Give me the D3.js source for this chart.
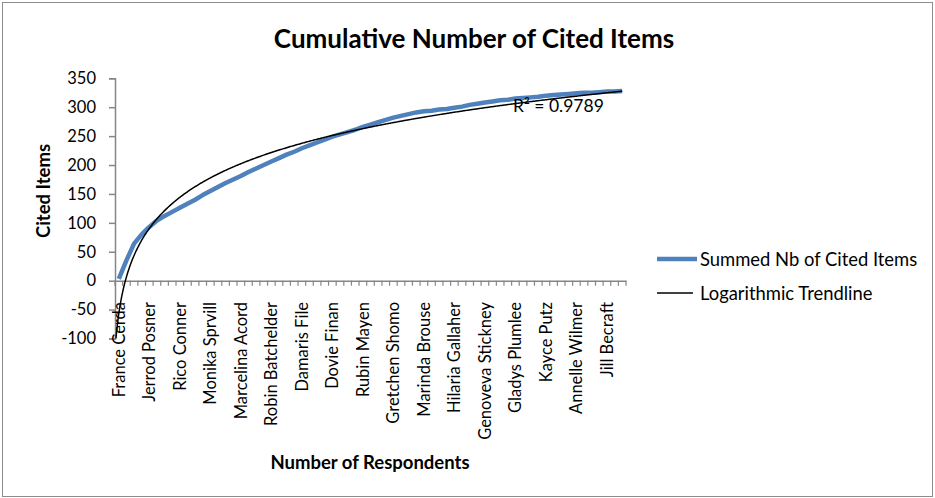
<!DOCTYPE html>
<html lang="en">
<head>
    <meta charset="UTF-8">
    <title>Cumulative Number of Cited Items</title>
    <script src="https://d3js.org/d3.v7.min.js"></script>
    <style>
        body { margin: 0; background: #fff; }
        text { font-family: Lato, "Open Sans", sans-serif; fill: #000; }
    </style>
</head>
<body>
    <div id="chart"></div>

    <script>
        // labels shown on the x axis (every 4th respondent)
        const shownLabels = ["France Cerda", "Jerrod Posner", "Rico Conner", "Monika Sprvill",
            "Marcelina Acord", "Robin Batchelder", "Damaris File", "Dovie Finan", "Rubin Mayen",
            "Gretchen Shomo", "Marinda Brouse", "Hilaria Gallaher", "Genoveva Stickney",
            "Gladys Plumlee", "Kayce Putz", "Annelle Wilmer", "Jill Becraft"];
        const labelStep = 4;

        // summed number of cited items, one value per respondent
        const summed = [3, 35, 64, 80, 93, 104, 112, 119, 126, 133,
            140, 148, 155, 162, 169, 175, 181, 188, 194, 200,
            206, 212, 218, 223, 229, 234, 239, 244, 249, 253,
            257, 261, 266, 270, 274, 278, 282, 285, 288, 291,
            293, 294, 296, 297, 299, 301, 304, 306, 308, 310,
            312, 313, 315, 316, 317, 318, 320, 321, 322, 323,
            324, 325, 325, 326, 327, 327, 328];

        const yTicks = [-100, -50, 0, 50, 100, 150, 200, 250, 300, 350];
        const r2Text = "R² = 0.9789";

        const W = 935, H = 498;
        const plotL = 115, plotR = 626, plotT = 78.3, plotB = 338.5;

        const svg = d3.select("#chart").append("svg")
            .attr("width", W).attr("height", H);

        // chart border
        svg.append("rect")
            .attr("x", 2.5).attr("y", 2.5)
            .attr("width", 930).attr("height", 494)
            .attr("fill", "none").attr("stroke", "#8c8c8c");

        const idx = d3.range(summed.length);
        const x = d3.scaleBand().domain(idx).range([plotL, plotR]);
        const xc = i => x(i) + x.bandwidth() / 2;
        const y = d3.scaleLinear().domain([-100, 350]).range([plotB, plotT]);

        // logarithmic trendline: least squares on ln(n), n = 1..N
        const lx = idx.map(i => Math.log(i + 1));
        const mx = d3.mean(lx), my = d3.mean(summed);
        const a = d3.sum(idx, i => (lx[i] - mx) * (summed[i] - my)) / d3.sum(lx, v => (v - mx) * (v - mx));
        const b = my - a * mx;

        // y axis
        const yAxis = svg.append("g")
            .attr("transform", `translate(${plotL},0)`)
            .call(d3.axisLeft(y).tickValues(yTicks).tickSize(6).tickPadding(13)
                .tickFormat(d => String(d)));
        yAxis.select(".domain").attr("stroke", "#868686").attr("stroke-width", 1.5);
        yAxis.selectAll(".tick line").attr("stroke", "#868686").attr("stroke-width", 1.5);
        yAxis.selectAll(".tick text")
            .attr("font-family", "Lato").attr("font-size", 16.5).attr("fill", "#000");

        // x axis at zero
        const xAxis = svg.append("g")
            .attr("transform", `translate(0,${y(0)})`)
            .call(d3.axisBottom(x).tickSize(0).tickFormat(""));
        xAxis.select(".domain").attr("stroke", "#868686").attr("stroke-width", 1.5);
        // tick marks between categories
        xAxis.selectAll(".sep")
            .data(d3.range(summed.length + 1))
            .join("line")
            .attr("x1", i => i < summed.length ? x(i) : plotR)
            .attr("x2", i => i < summed.length ? x(i) : plotR)
            .attr("y1", 0).attr("y2", 5)
            .attr("stroke", "#868686").attr("stroke-width", 1.2);

        // rotated category labels
        svg.append("g").selectAll("text")
            .data(shownLabels)
            .join("text")
            .attr("transform", (d, k) => `translate(${xc(k * labelStep)},302) rotate(-90)`)
            .attr("dy", "0.36em")
            .attr("text-anchor", "end")
            .attr("font-size", 16.5)
            .text(d => d);

        // clip for trendline
        svg.append("clipPath").attr("id", "plot")
            .append("rect").attr("x", plotL).attr("y", plotT)
            .attr("width", plotR - plotL).attr("height", plotB - plotT);

        // data line
        svg.append("path")
            .datum(summed)
            .attr("fill", "none")
            .attr("stroke", "#4f81bd")
            .attr("stroke-width", 4.5)
            .attr("stroke-linejoin", "round")
            .attr("d", d3.line().x((d, i) => xc(i)).y(d => y(d)));

        // trendline, drawn from the left edge of the first category
        const tn = d3.range(0.5, summed.length + 0.001, 0.1);
        const xn = d3.scaleLinear().domain([1, summed.length]).range([xc(0), xc(summed.length - 1)]);
        svg.append("path")
            .datum(tn)
            .attr("clip-path", "url(#plot)")
            .attr("fill", "none")
            .attr("stroke", "#000")
            .attr("stroke-width", 1.5)
            .attr("d", d3.line().x(n => xn(n)).y(n => y(a * Math.log(n) + b)));

        svg.append("text")
            .attr("x", 513).attr("y", 112)
            .attr("font-size", 17.5)
            .text(r2Text);

        // title
        svg.append("text")
            .attr("x", 474).attr("y", 48)
            .attr("text-anchor", "middle")
            .attr("font-size", 26).attr("font-weight", "bold")
            .text("Cumulative Number of Cited Items");

        // axis titles
        svg.append("text")
            .attr("transform", "translate(50,191) rotate(-90)")
            .attr("text-anchor", "middle")
            .attr("font-size", 18.5).attr("font-weight", "bold")
            .text("Cited Items");
        svg.append("text")
            .attr("x", 370).attr("y", 469)
            .attr("text-anchor", "middle")
            .attr("font-size", 18.5).attr("font-weight", "bold")
            .text("Number of Respondents");

        // legend
        const legend = svg.append("g");
        legend.append("line")
            .attr("x1", 657).attr("x2", 697).attr("y1", 259).attr("y2", 259)
            .attr("stroke", "#4f81bd").attr("stroke-width", 4.5);
        legend.append("text")
            .attr("x", 700).attr("y", 265.5).attr("font-size", 18.4)
            .text("Summed Nb of Cited Items");
        legend.append("line")
            .attr("x1", 657).attr("x2", 693).attr("y1", 293).attr("y2", 293)
            .attr("stroke", "#000").attr("stroke-width", 1.5);
        legend.append("text")
            .attr("x", 700).attr("y", 299.5).attr("font-size", 18.4)
            .text("Logarithmic Trendline");
    </script>
</body>
</html>
